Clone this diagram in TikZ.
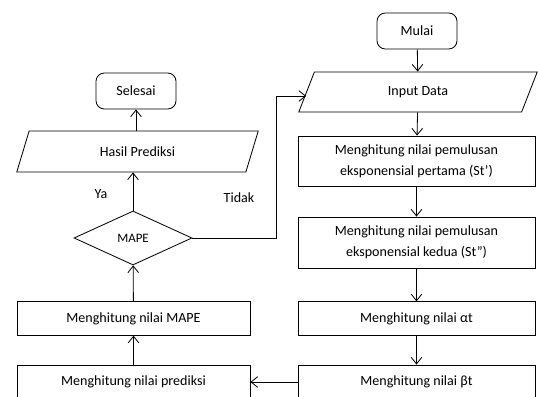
\documentclass[tikz,border=0pt]{standalone}
\usepackage{fontspec}
\setmainfont{Carlito}
\usetikzlibrary{shapes.geometric,arrows.meta}

\begin{document}
\begin{tikzpicture}[x=0.03cm,y=-0.03cm,
  font=\fontsize{12}{17.5}\selectfont,
  every path/.style={line width=0.7pt},
  panah/.style={-{Straight Barb[length=2mm,width=3.2mm]}},
  terminal/.style={draw,rounded corners=2.5mm,minimum width=2.4cm,minimum height=1.08cm},
  proses/.style={draw,align=center,minimum width=7.11cm,inner sep=0pt},
  proseskiri/.style={draw,align=center,minimum width=6.99cm,minimum height=1cm,inner sep=0pt},
  masukan/.style={draw,trapezium,trapezium left angle=75,trapezium right angle=105,
    trapezium stretches=true,minimum height=1.2cm}]

\useasboundingbox (0,0) rectangle (538,397);

% Mulai
\node[terminal] (mulai) at (417,31)
{Mulai};

% Input Data
\node[masukan,minimum width=7.2cm] (input) at (418,92)
{Input Data};

% pemulusan pertama
\node[proses,minimum height=1.5cm] (st1) at (416.5,161)
{Menghitung nilai pemulusan\\eksponensial pertama (St’)};

% pemulusan kedua
\node[proses,minimum height=1.53cm] (st2) at (416.5,242.5)
{Menghitung nilai pemulusan\\eksponensial kedua (St”)};

% alpha
\node[proses,minimum height=1cm] (alfa) at (416.5,318.5)
{Menghitung nilai αt};

% beta
\node[proses,minimum height=1.02cm] (beta) at (416.5,382)
{Menghitung nilai βt};

% prediksi
\node[proseskiri] (prediksi) at (133.5,382)
{Menghitung nilai prediksi};

% MAPE
\node[proseskiri] (hitungmape) at (133.5,318.5)
{Menghitung nilai MAPE};

\node[draw,diamond,aspect=2.19,minimum width=3.54cm,minimum height=1.62cm,
  inner sep=0pt,font=\fontsize{11}{13}\selectfont] (mape) at (133,238)
{MAPE};

% Hasil Prediksi
\node[masukan,minimum width=7.29cm,minimum height=1.23cm] (hasil) at (137.5,151.5)
{Hasil Prediksi};

% Selesai
\node[terminal] (selesai) at (136,91)
{Selesai};

\node (ya) at (101,194)
{Ya};

\node (tidak) at (239,198)
{Tidak};

\coordinate (belok) at (276,96);

\draw[panah] (mulai) -- (input);
\draw[panah] (input) -- (st1);
\draw[panah] (st1) -- (st2);
\draw[panah] (st2) -- (alfa);
\draw[panah] (alfa) -- (beta);
\draw[panah] (beta) -- (prediksi);
\draw[panah] (prediksi) -- (hitungmape);
\draw[panah] (hitungmape) -- (mape);
\draw[panah] (mape.north) -- (mape.north |- hasil.south);
\draw[panah] (hasil.north -| selesai) -- (selesai);
\draw[panah] (mape.east) -| (belok) -- (belok -| input.west);

\end{tikzpicture}
\end{document}
